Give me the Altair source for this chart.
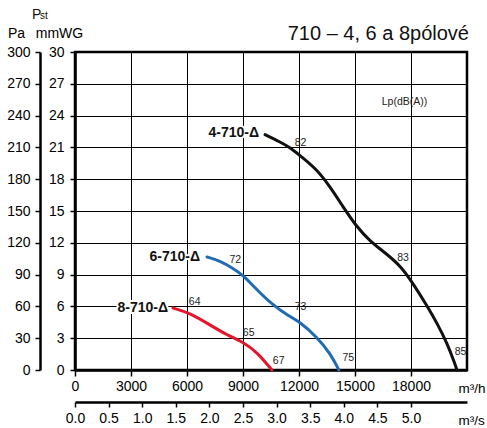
import altair as alt
import pandas as pd

# ---- data (flow in m3/h, static pressure in mmWG) ----
q_4 = [10180, 11000, 11520, 12210, 12960, 13660, 14360, 15050, 15800, 16700, 17500, 18050, 18850, 19400, 19930, 20350, 20460]
p_4 = [22.2, 21.5, 21.0, 20.0, 18.9, 17.3, 15.4, 13.6, 12.15, 10.95, 9.7, 8.3, 6.1, 4.4, 2.55, 0.6, 0.0]

q_6 = [7070, 7800, 8460, 9000, 9750, 10600, 11360, 12050, 12960, 13660, 14140]
p_6 = [10.66, 10.28, 9.6, 8.96, 7.55, 6.13, 5.19, 4.53, 3.11, 1.6, 0.0]

q_8 = [5250, 6160, 7230, 8140, 9000, 9750, 10550]
p_8 = [5.85, 5.38, 4.25, 3.3, 2.64, 1.7, 0.0]

series_names = ["4-710-Δ", "6-710-Δ", "8-710-Δ"]
series_colors = ["#111111", "#1f6cb3", "#e3162c"]
series_label_q = [9857, 6696, 4982]
series_label_p = [22.36, 10.66, 5.85]

db_text = ["82", "83", "85", "72", "73", "75", "64", "65", "67"]
db_q = [12080, 17571, 20652, 8589, 12080, 14643, 6411, 9304, 10911]
db_p = [21.46, 10.61, 1.73, 10.4, 5.93, 1.1, 6.4, 3.51, 0.82]

lp_text = ["Lp(dB(A))"]
lp_q = [17652]
lp_p = [25.3]

flow_ticks = [0, 3000, 6000, 9000, 12000, 15000, 18000]
mmwg_ticks = [0, 3, 6, 9, 12, 15, 18, 21, 24, 27, 30]
pa_ticks = [0, 30, 60, 90, 120, 150, 180, 210, 240, 270, 300]
m3s_ticks = [0.0, 0.5, 1.0, 1.5, 2.0, 2.5, 3.0, 3.5, 4.0, 4.5, 5.0]

FLOW_MAX = 21000
MMWG_MAX = 30
PA_MAX = 300
M3S_MAX = FLOW_MAX / 3600

title_text = "710 – 4, 6 a 8pólové"
FONT = "Liberation Sans"

# ---- tables ----
rows = []
for name, qs, ps in zip(series_names, [q_4, q_6, q_8], [p_4, p_6, p_8]):
    for i, (q, p) in enumerate(zip(qs, ps)):
        rows.append({"series": name, "Q": q, "P": p, "idx": i})
curve_df = pd.DataFrame(rows)
slabel_df = pd.DataFrame({"series": series_names, "Q": series_label_q, "P": series_label_p})
db_df = pd.DataFrame({"t": db_text, "Q": db_q, "P": db_p})
lp_df = pd.DataFrame({"t": lp_text, "Q": lp_q, "P": lp_p})
pa_df = pd.DataFrame({"Pa": pa_ticks})
m3s_df = pd.DataFrame({"S": m3s_ticks})
one = pd.DataFrame({"a": [0]})

x_scale = alt.Scale(domain=[0, FLOW_MAX], nice=False, zero=False)
y_scale = alt.Scale(domain=[0, MMWG_MAX], nice=False, zero=False)

common_axis = dict(
    domainColor="black", domainWidth=2.5, tickColor="black", tickWidth=1.5,
    labelColor="black", labelFontSize=14, labelFont=FONT, labelFlush=False,
    labelOverlap=False, titleFont=FONT, titleFontWeight="normal", titleColor="black",
)

x_axis = alt.Axis(
    values=flow_ticks, format="d", grid=True, gridColor="black", gridWidth=1,
    tickSize=6, labelPadding=3, title="m³/h", titleX=383, titleY=18,
    titleAlign="left", titleBaseline="middle", titleFontSize=13.5, **common_axis,
)
y_axis = alt.Axis(
    values=mmwg_ticks, grid=True, gridColor="black", gridWidth=1,
    tickSize=5, labelPadding=6, title="mmWG", titleAngle=0, titleX=-16, titleY=-19,
    titleAlign="center", titleBaseline="middle", titleFontSize=14, **common_axis,
)

curves = alt.Chart(curve_df).mark_line(interpolate="basis", strokeWidth=3, strokeCap="round").encode(
    x=alt.X("Q:Q", scale=x_scale, axis=x_axis),
    y=alt.Y("P:Q", scale=y_scale, axis=y_axis),
    color=alt.Color("series:N", scale=alt.Scale(domain=series_names, range=series_colors), legend=None),
    order=alt.Order("idx:Q"),
)


def xy():
    return dict(
        x=alt.X("Q:Q", scale=x_scale, axis=None),
        y=alt.Y("P:Q", scale=y_scale, axis=None),
    )


slabel_halo = alt.Chart(slabel_df).mark_text(
    align="right", baseline="middle", font=FONT, fontSize=14, fontWeight="bold",
    fill="white", stroke="white", strokeWidth=4,
).encode(text="series:N", **xy())
slabel = alt.Chart(slabel_df).mark_text(
    align="right", baseline="middle", font=FONT, fontSize=14, fontWeight="bold", color="#111111",
).encode(text="series:N", **xy())

db_labels = alt.Chart(db_df).mark_text(
    align="center", baseline="middle", font=FONT, fontSize=10.5, color="#222222",
).encode(text="t:N", **xy())

lp_label = alt.Chart(lp_df).mark_text(
    align="center", baseline="middle", font=FONT, fontSize=10.5, color="#222222",
).encode(text="t:N", **xy())

pa_axis_layer = alt.Chart(pa_df).mark_tick(opacity=0).encode(
    y=alt.Y("Pa:Q", scale=alt.Scale(domain=[0, PA_MAX], nice=False, zero=False),
            axis=alt.Axis(orient="left", offset=35, values=pa_ticks, grid=False, tickSize=5,
                          labelPadding=5, title="Pa", titleAngle=0, titleX=-24, titleY=-19,
                          titleAlign="center", titleBaseline="middle", titleFontSize=14,
                          **common_axis)),
)

m3s_axis_layer = alt.Chart(m3s_df).mark_tick(opacity=0).encode(
    x=alt.X("S:Q", scale=alt.Scale(domain=[0, M3S_MAX], nice=False, zero=False),
            axis=alt.Axis(orient="bottom", offset=32, values=m3s_ticks, format=".1f", grid=False,
                          tickSize=5, labelPadding=4, title="m³/s", titleX=383, titleY=18,
                          titleAlign="left", titleBaseline="middle", titleFontSize=13.5,
                          **common_axis)),
)

title_mark = alt.Chart(one).mark_text(
    text=title_text, align="right", baseline="alphabetic", font=FONT, fontSize=20, color="#111111",
).encode(x=alt.value(394), y=alt.value(-12))

p_mark = alt.Chart(one).mark_text(
    text="P", align="left", baseline="alphabetic", font=FONT, fontSize=14, color="#111111",
).encode(x=alt.value(-43), y=alt.value(-33))
st_mark = alt.Chart(one).mark_text(
    text="st", align="left", baseline="alphabetic", font=FONT, fontSize=10, color="#111111",
).encode(x=alt.value(-35), y=alt.value(-33))

chart = alt.layer(
    curves, slabel_halo, slabel, db_labels, lp_label,
    pa_axis_layer, m3s_axis_layer, title_mark, p_mark, st_mark,
).resolve_scale(
    x="independent", y="independent"
).properties(
    width=392, height=318,
    padding={"left": 75, "top": 52, "right": 20, "bottom": 58},
    autosize="none",
    background="white",
).configure_view(
    stroke="black", strokeWidth=2.5
)

chart.save("out.html", embed_options={"renderer": "svg", "actions": False})
